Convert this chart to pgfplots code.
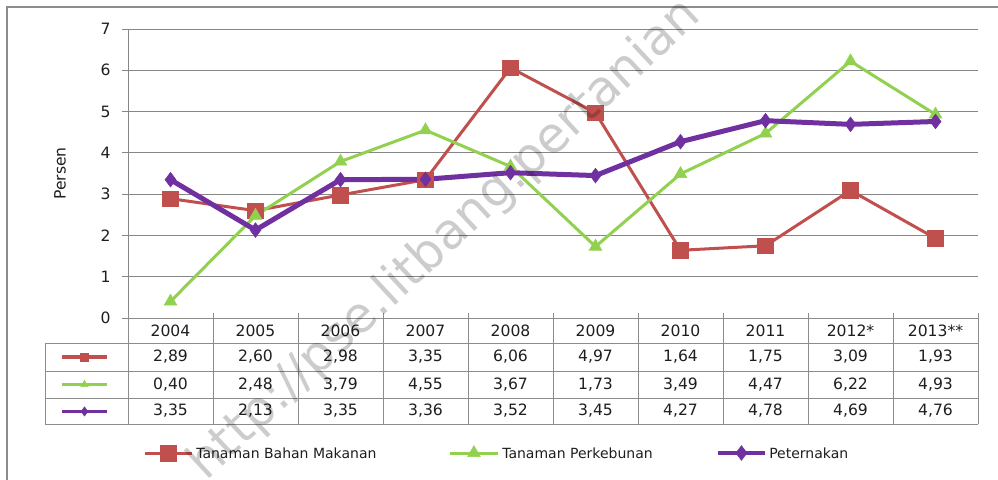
\documentclass[border=0pt]{standalone}
\usepackage{pgfplots}
\usepackage{pgfplotstable}
\pgfplotsset{compat=1.18}
\usepackage{fontspec}
\setmainfont{DejaVu Sans}
\definecolor{cred}{RGB}{192,80,77}
\definecolor{cgreen}{RGB}{146,208,80}
\definecolor{cpurple}{RGB}{112,48,160}
\definecolor{gridgray}{RGB}{134,134,134}
\definecolor{tabgray}{RGB}{140,140,140}
\definecolor{txt}{RGB}{30,30,30}

\pgfplotstableread{
i red green purple
0 2.89 0.40 3.35
1 2.60 2.48 2.13
2 2.98 3.79 3.35
3 3.35 4.55 3.36
4 6.06 3.67 3.52
5 4.97 1.73 3.45
6 1.64 3.49 4.27
7 1.75 4.47 4.78
8 3.09 6.22 4.69
9 1.93 4.93 4.76
}\data

\newcommand\numfont{\fontsize{11.7}{13}\selectfont}
\newcommand\legfont{\fontsize{10.5}{12}\selectfont}

\begin{document}
\begin{tikzpicture}
\useasboundingbox (0,0) rectangle (748.5pt,359.25pt);
\begin{axis}[
  at={(96pt,120.75pt)}, anchor=south west,
  scale only axis, width=637.5pt, height=216.75pt,
  xmin=-0.5, xmax=9.5, ymin=0, ymax=7,
  clip=false,
  axis x line=none,
  axis y line*=left,
  axis line style={draw=gridgray, line width=0.75pt},
  xtick=\empty,
  ytick={0,1,...,7},
  ymajorgrids,
  grid style={draw=gridgray, line width=0.75pt},
  tick align=outside,
  major tick length=4.5pt,
  ytick style={draw=gridgray, line width=0.75pt},
  /pgf/number format/assume math mode=true,
  yticklabel style={font=\numfont, text=txt, xshift=-5pt},
]
% main series
\addplot[cred, line width=2.25pt, mark=square*, mark size=5.9pt, mark options={line width=0.4pt}] table[x=i,y=red]{\data};
\addplot[cgreen, line width=2.25pt, mark=triangle*, mark size=5.5pt, mark options={line width=0.4pt}] table[x=i,y=green]{\data};
\addplot[cpurple, line width=3.75pt, mark=diamond*, mark size=5.5pt, mark options={line width=0.4pt}] table[x=i,y=purple]{\data};
% table row keys
\addplot[cred, line width=2.6pt, mark=square*, mark size=3pt, mark indices={2}, mark options={line width=0.3pt}, forget plot] coordinates {(-1.276,-0.9445) (-1.012,-0.9445) (-0.747,-0.9445)};
\addplot[cgreen, line width=2.6pt, mark=triangle*, mark size=3.2pt, mark indices={2}, mark options={line width=0.3pt}, forget plot] coordinates {(-1.276,-1.611) (-1.012,-1.611) (-0.747,-1.611)};
\addplot[cpurple, line width=2.6pt, mark=diamond*, mark size=3.5pt, mark indices={2}, mark options={line width=0.3pt}, forget plot] coordinates {(-1.276,-2.264) (-1.012,-2.264) (-0.747,-2.264)};
% bottom legend keys
\addplot[cred, line width=2.25pt, mark=square*, mark size=5.9pt, mark indices={2}, mark options={line width=0.4pt}, forget plot] coordinates {(-0.300,-3.27) (-0.024,-3.27) (0.253,-3.27)};
\addplot[cgreen, line width=2.25pt, mark=triangle*, mark size=5.5pt, mark indices={2}, mark options={line width=0.4pt}, forget plot] coordinates {(3.288,-3.27) (3.570,-3.27) (3.853,-3.27)};
\addplot[cpurple, line width=3pt, mark=diamond*, mark size=5.5pt, mark indices={2}, mark options={line width=0.4pt}, forget plot] coordinates {(6.440,-3.27) (6.717,-3.27) (6.994,-3.27)};
\end{axis}

\begin{scope}[x=0.75pt, y=-0.75pt, shift={(0pt,359.25pt)}]
% outer frame
\draw[tabgray, line width=0.9pt] (7,480) -- (7,7) -- (999,7);
% y label
\node[rotate=90, font=\numfont, text=txt] at (60,173.5) {Persen};
% data table lines
\draw[tabgray, line width=0.75pt] (128,318) -- (978,318);
\foreach \yy in {343,371,398,424} \draw[tabgray, line width=0.75pt] (45,\yy) -- (978,\yy);
\draw[tabgray, line width=0.75pt] (45,343) -- (45,424);
\foreach \k in {0,...,10} \draw[tabgray, line width=0.75pt] ({128+85*\k},313) -- ({128+85*\k},424);
% header
\foreach \t [count=\k from 0] in {2004,2005,2006,2007,2008,2009,2010,2011,2012*,2013**}
  \node[font=\numfont, text=txt] at ({170.5+85*\k},330.5) {\t};
\foreach \t [count=\k from 0] in {{2,89},{2,60},{2,98},{3,35},{6,06},{4,97},{1,64},{1,75},{3,09},{1,93}}
  \node[font=\numfont, text=txt] at ({170.5+85*\k},357) {\t};
\foreach \t [count=\k from 0] in {{0,40},{2,48},{3,79},{4,55},{3,67},{1,73},{3,49},{4,47},{6,22},{4,93}}
  \node[font=\numfont, text=txt] at ({170.5+85*\k},384.5) {\t};
\foreach \t [count=\k from 0] in {{3,35},{2,13},{3,35},{3,36},{3,52},{3,45},{4,27},{4,78},{4,69},{4,76}}
  \node[font=\numfont, text=txt] at ({170.5+85*\k},411) {\t};
% legend texts
\node[font=\legfont, text=txt, anchor=west, inner sep=0pt] at (196,453) {Tanaman Bahan Makanan};
\node[font=\legfont, text=txt, anchor=west, inner sep=0pt] at (502,453) {Tanaman Perkebunan};
\node[font=\legfont, text=txt, anchor=west, inner sep=0pt] at (769,453) {Peternakan};
% watermark
\begin{scope}
\clip (0,0) rectangle (998,479);
\node[rotate=43, font=\fontsize{37}{37}\selectfont, text=black, text opacity=0.2] at (445,240) {http://pse.litbang.pertanian};
\end{scope}
\end{scope}
\end{tikzpicture}
\end{document}
